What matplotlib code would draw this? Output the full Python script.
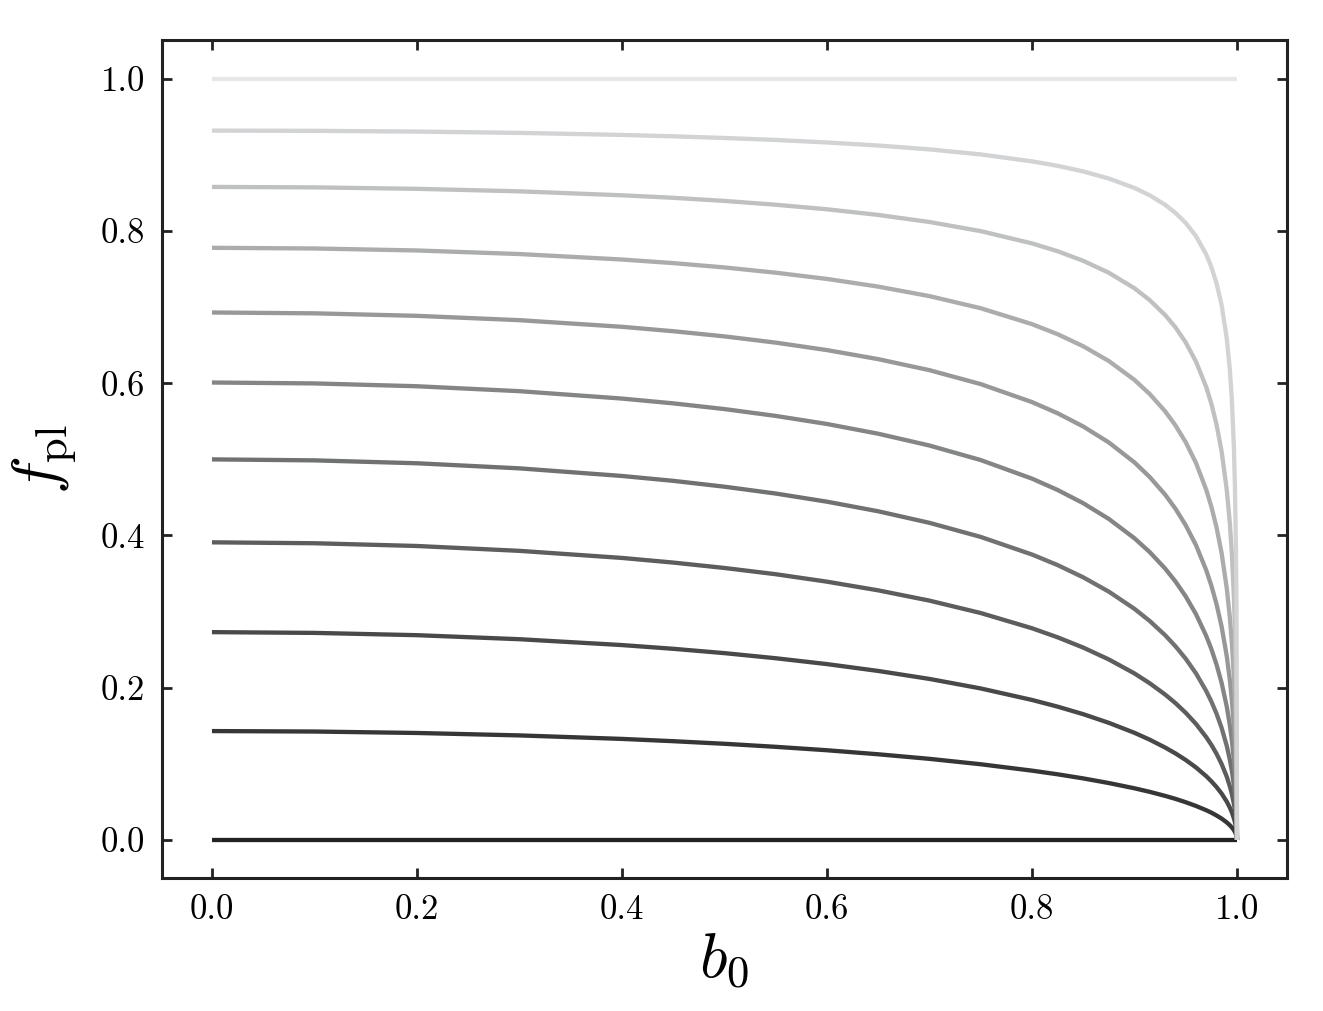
import numpy as np
import matplotlib
matplotlib.use("Agg")
import matplotlib.pyplot as plt
from matplotlib.colors import to_rgb

plt.rcParams['font.family'] = 'serif'
plt.rcParams['font.serif'] = ['cmr10', 'DejaVu Serif']
plt.rcParams['mathtext.fontset'] = 'cm'
plt.rcParams['axes.formatter.use_mathtext'] = True

# b0 sample positions read along the x axis (denser where the curves bend)
b0 = [0.0, 0.1, 0.2, 0.3, 0.4, 0.45, 0.5, 0.55, 0.6, 0.65, 0.7, 0.75, 0.8, 0.825,
      0.85, 0.875, 0.9, 0.915, 0.93, 0.94, 0.95, 0.96, 0.97, 0.975, 0.98, 0.985,
      0.99, 0.993, 0.995, 0.997, 0.998, 0.999, 0.9995, 1.0]

# f_pl (bottom to top)
f_00 = [0.0] * 34
f_01 = [0.143, 0.1424, 0.1405, 0.1373, 0.1327, 0.1297, 0.1263, 0.1223, 0.1178, 0.1125,
        0.1065, 0.0994, 0.0910, 0.0862, 0.0808, 0.0747, 0.0678, 0.0631, 0.0578, 0.0539,
        0.0495, 0.0446, 0.0390, 0.0358, 0.0321, 0.0280, 0.0230, 0.0193, 0.0164, 0.0128,
        0.0104, 0.0074, 0.0053, 0.0]
f_02 = [0.273, 0.2720, 0.2690, 0.2637, 0.2560, 0.2511, 0.2454, 0.2387, 0.2310, 0.2220,
        0.2115, 0.1990, 0.1839, 0.1751, 0.1652, 0.1538, 0.1407, 0.1316, 0.1213, 0.1136,
        0.1050, 0.0952, 0.0837, 0.0770, 0.0695, 0.0609, 0.0503, 0.0425, 0.0362, 0.0283,
        0.0232, 0.0165, 0.0117, 0.0]
f_03 = [0.391, 0.3898, 0.3862, 0.3798, 0.3705, 0.3644, 0.3573, 0.3491, 0.3393, 0.3279,
        0.3144, 0.2981, 0.2781, 0.2662, 0.2527, 0.2371, 0.2187, 0.2057, 0.1909, 0.1797,
        0.1670, 0.1524, 0.1350, 0.1249, 0.1133, 0.0997, 0.0831, 0.0705, 0.0603, 0.0473,
        0.0390, 0.0279, 0.0199, 0.0]
f_04 = [0.500, 0.4987, 0.4949, 0.4882, 0.4782, 0.4718, 0.4641, 0.4551, 0.4444, 0.4318,
        0.4166, 0.3981, 0.3750, 0.3611, 0.3450, 0.3262, 0.3036, 0.2875, 0.2688, 0.2544,
        0.2380, 0.2188, 0.1956, 0.1818, 0.1660, 0.1472, 0.1236, 0.1056, 0.0908, 0.0718,
        0.0595, 0.0428, 0.0307, 0.0]
f_05 = [0.601, 0.5998, 0.5961, 0.5896, 0.5799, 0.5736, 0.5661, 0.5571, 0.5465, 0.5337,
        0.5182, 0.4991, 0.4747, 0.4598, 0.4424, 0.4217, 0.3963, 0.3780, 0.3564, 0.3395,
        0.3199, 0.2966, 0.2680, 0.2508, 0.2306, 0.2063, 0.1753, 0.1510, 0.1308, 0.1044,
        0.0869, 0.0631, 0.0455, 0.0]
f_06 = [0.693, 0.6919, 0.6886, 0.6829, 0.6742, 0.6684, 0.6616, 0.6534, 0.6436, 0.6317,
        0.6172, 0.5989, 0.5753, 0.5606, 0.5432, 0.5222, 0.4960, 0.4766, 0.4535, 0.4351,
        0.4134, 0.3873, 0.3543, 0.3340, 0.3100, 0.2803, 0.2415, 0.2105, 0.1840, 0.1487,
        0.1249, 0.0917, 0.0666, 0.0]
f_07 = [0.778, 0.7771, 0.7745, 0.7698, 0.7626, 0.7579, 0.7522, 0.7453, 0.7371, 0.7270,
        0.7145, 0.6986, 0.6777, 0.6645, 0.6486, 0.6292, 0.6044, 0.5857, 0.5630, 0.5446,
        0.5225, 0.4953, 0.4600, 0.4378, 0.4109, 0.3768, 0.3308, 0.2928, 0.2593, 0.2134,
        0.1814, 0.1355, 0.0998, 0.0]
f_08 = [0.858, 0.8574, 0.8555, 0.8522, 0.8470, 0.8437, 0.8396, 0.8346, 0.8286, 0.8212,
        0.8119, 0.7999, 0.7838, 0.7735, 0.7609, 0.7452, 0.7248, 0.7091, 0.6895, 0.6734,
        0.6536, 0.6285, 0.5950, 0.5731, 0.5460, 0.5104, 0.4602, 0.4165, 0.3763, 0.3187,
        0.2764, 0.2127, 0.1604, 0.0]
f_09 = [0.932, 0.9317, 0.9307, 0.9290, 0.9263, 0.9245, 0.9223, 0.9197, 0.9164, 0.9124,
        0.9073, 0.9007, 0.8916, 0.8857, 0.8784, 0.8690, 0.8566, 0.8469, 0.8344, 0.8238,
        0.8106, 0.7933, 0.7692, 0.7528, 0.7317, 0.7028, 0.6591, 0.6182, 0.5779, 0.5148,
        0.4642, 0.3800, 0.3024, 0.0]
f_10 = [1.0] * 34

curves = [f_00, f_01, f_02, f_03, f_04, f_05, f_06, f_07, f_08, f_09, f_10]

dark = np.array(to_rgb('#222222'))
light = np.array(to_rgb('#e6e7e9'))

fig = plt.figure(figsize=(6.615, 5.055), dpi=200)
ax = fig.add_axes([0.1224, 0.1316, 0.8504, 0.8288])

n = len(curves)
for i, f in enumerate(curves):
    t = i / (n - 1)
    col = dark + (light - dark) * t
    ax.plot(b0, f, color=col, lw=1.55, solid_capstyle='butt', solid_joinstyle='round')

ax.set_xlim(-0.0488, 1.0488)
ax.set_ylim(-0.05, 1.051)
ax.set_xticks([0.0, 0.2, 0.4, 0.6, 0.8, 1.0])
ax.set_yticks([0.0, 0.2, 0.4, 0.6, 0.8, 1.0])
ax.set_xticklabels(['0.0', '0.2', '0.4', '0.6', '0.8', '1.0'])
ax.set_yticklabels(['0.0', '0.2', '0.4', '0.6', '0.8', '1.0'])
ax.tick_params(direction='in', top=True, right=True, length=3.5, width=1.0,
               labelsize=12.5, color='#222222', pad=6)
for sp in ax.spines.values():
    sp.set_linewidth(1.1)
    sp.set_color('#222222')

ax.set_xlabel(r'$b_0$', fontsize=23, labelpad=2)
ax.set_ylabel(r'$f_{\rm pl}$', fontsize=23, labelpad=8)

fig.savefig('out.png', dpi=200)
